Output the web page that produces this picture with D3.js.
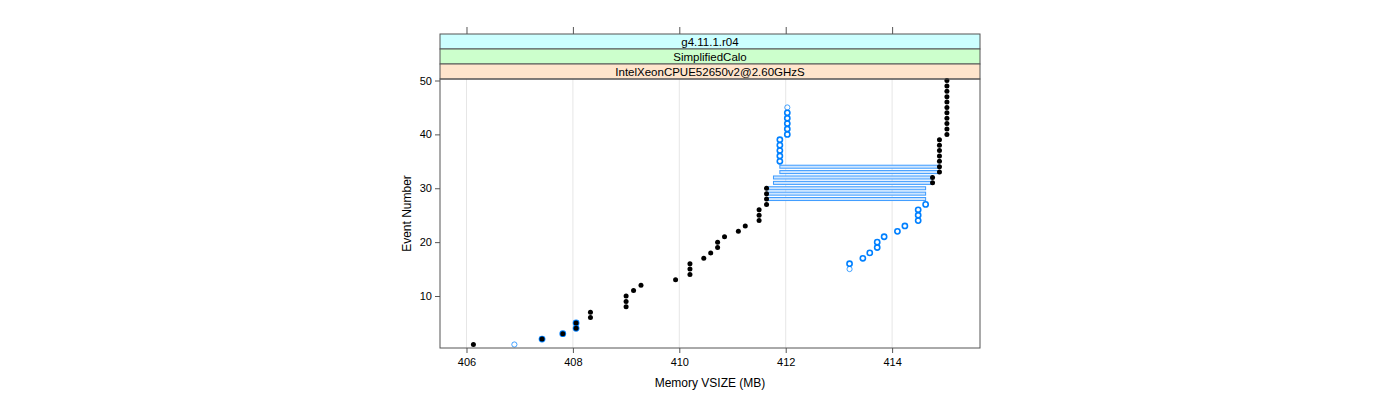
<!DOCTYPE html>
<html><head><meta charset="utf-8">
<script src="https://cdn.jsdelivr.net/npm/d3@7"></script>
<style>body{margin:0;background:#fff;} text{font-family:"Liberation Sans",Arial,sans-serif;}</style>
</head><body><svg id="c" width="1400" height="400"></svg>
<script>
// ---- data ----
const stripLabels = ["g4.11.1.r04", "SimplifiedCalo", "IntelXeonCPUE52650v2@2.60GHzS"];
const stripColors = ["#ccffff", "#ccffcc", "#ffe5cc"];
const xTicks = [406, 408, 410, 412, 414];
const yTicks = [10, 20, 30, 40, 50];
const xLabel = "Memory VSIZE (MB)";
const yLabel = "Event Number";

// black series: event -> VSIZE
const blackEvents = d3.range(1, 51);
const blackValues = [
  406.13, 407.42, 407.81, 408.06, 408.06, 408.33, 408.33, 409.0, 409.0, 409.0,
  409.14, 409.28, 409.93, 410.2, 410.2, 410.2, 410.46, 410.59, 410.72, 410.72,
  410.85, 411.11, 411.24, 411.5, 411.5, 411.5, 411.64, 411.64, 411.64, 411.64,
  414.76, 414.76, 414.89, 414.89, 414.89, 414.89, 414.89, 414.89, 414.89, 415.03,
  415.03, 415.03, 415.03, 415.03, 415.03, 415.03, 415.03, 415.03, 415.03, 415.03
];
// blue series points
const blueEvents = [1, 2, 3, 4, 5, 15, 16, 17, 18, 19, 20, 21, 22, 23, 24, 25, 26, 27,
  35, 36, 37, 38, 39, 40, 41, 42, 43, 44, 45];
const blueValues = [406.9, 407.42, 407.81, 408.06, 408.06, 413.2, 413.2, 413.45, 413.58, 413.72,
  413.72, 413.85, 414.1, 414.24, 414.49, 414.49, 414.49, 414.63,
  411.89, 411.89, 411.89, 411.89, 411.89, 412.03, 412.03, 412.03, 412.03, 412.03, 412.03];
const blueFaint = [1, 15, 45];
// blue series ranges
const rangeEvents = [28, 29, 30, 31, 32, 33, 34];
const rangeStart = [411.64, 411.64, 411.64, 411.77, 411.77, 411.89, 411.89];
const rangeEnd = [414.63, 414.63, 414.63, 414.76, 414.76, 414.89, 414.89];

// ---- layout ----
const L = 440, R = 980, T = 79, B = 348;
const stripH = 15;
const svg = d3.select("#c");
const x = d3.scaleLinear().domain([405.502, 415.652]).range([L, R]);
const y = d3.scaleLinear().domain([0.35, 50.28]).range([B, T]);
const frame = "#555";

// grid
svg.append("g").selectAll("line").data(xTicks).join("line")
  .attr("x1", d => x(d)).attr("x2", d => x(d)).attr("y1", T).attr("y2", B)
  .attr("stroke", "#e6e6e6").attr("stroke-width", 1);

// axes
const gx = svg.append("g").attr("transform", `translate(0,${B})`)
  .call(d3.axisBottom(x).tickValues(xTicks).tickFormat(d3.format("d")).tickSize(5).tickPadding(3));
const gxt = svg.append("g").attr("transform", `translate(0,${T - 3 * stripH})`)
  .call(d3.axisTop(x).tickValues(xTicks).tickFormat("").tickSize(7));
const gy = svg.append("g").attr("transform", `translate(${L},0)`)
  .call(d3.axisLeft(y).tickValues(yTicks).tickFormat(d3.format("d")).tickSize(5).tickPadding(3));
[gx, gxt, gy].forEach(g => {
  g.select(".domain").remove();
  g.selectAll("line").attr("stroke", frame);
  g.selectAll("text").attr("font-size", 11).attr("fill", "#000");
});
gx.selectAll("text").attr("dy", "0.9em");

// strips (top one is first label)
stripLabels.forEach((lab, i) => {
  const y0 = T - 3 * stripH + i * stripH;
  svg.append("rect").attr("x", L).attr("y", y0).attr("width", R - L).attr("height", stripH)
    .attr("fill", stripColors[i]).attr("stroke", frame).attr("stroke-width", 1);
  svg.append("text").attr("x", (L + R) / 2).attr("y", y0 + stripH / 2 + 4)
    .attr("text-anchor", "middle").attr("font-size", 11.5).text(lab);
});

// ranges (blue bars)
svg.append("g").selectAll("rect").data(rangeEvents).join("rect")
  .attr("x", (d, i) => x(rangeStart[i])).attr("width", (d, i) => x(rangeEnd[i]) - x(rangeStart[i]))
  .attr("y", d => y(d) - 1.5).attr("height", 3)
  .attr("fill", "#cfe6ff").attr("stroke", "#3d9bff").attr("stroke-width", 1);

// blue points
svg.append("g").selectAll("circle").data(blueEvents).join("circle")
  .attr("cx", (d, i) => x(blueValues[i])).attr("cy", d => y(d)).attr("r", 2.6)
  .attr("fill", "none").attr("stroke", "#0080ff")
  .attr("stroke-width", d => blueFaint.includes(d) ? 0.9 : 1.6)
  .attr("stroke-opacity", d => blueFaint.includes(d) ? 0.8 : 1);

// black points
svg.append("g").selectAll("circle").data(blackEvents).join("circle")
  .attr("cx", (d, i) => x(blackValues[i])).attr("cy", d => y(d)).attr("r", 2.5)
  .attr("fill", "#000");

// panel frame
svg.append("rect").attr("x", L).attr("y", T).attr("width", R - L).attr("height", B - T)
  .attr("fill", "none").attr("stroke", frame).attr("stroke-width", 1);

// axis titles
svg.append("text").attr("x", (L + R) / 2).attr("y", 387).attr("text-anchor", "middle")
  .attr("font-size", 12).text(xLabel);
svg.append("text").attr("transform", `translate(411,${(T + B) / 2}) rotate(-90)`)
  .attr("text-anchor", "middle").attr("font-size", 12).text(yLabel);
</script></body></html>
